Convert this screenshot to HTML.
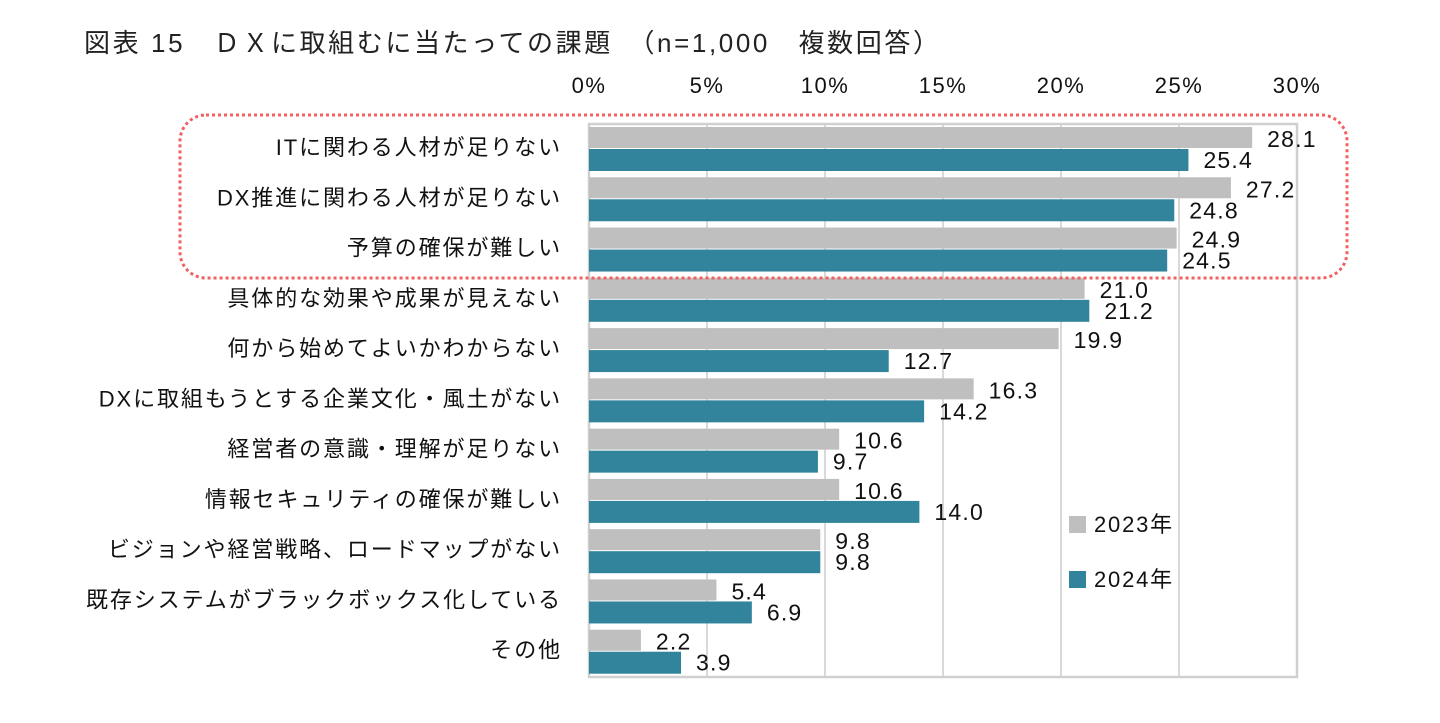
<!DOCTYPE html>
<html><head><meta charset="utf-8"><style>
body{margin:0;width:1440px;height:718px;background:#fff;overflow:hidden;font-family:"Liberation Sans","Noto Sans CJK JP",sans-serif;}
svg text{font-family:"Liberation Sans","Noto Sans CJK JP",sans-serif;}
</style></head><body>
<svg id="c" width="1440" height="718">
<text x="84" y="52" font-size="26" letter-spacing="2.6" fill="#222">図表 15　ＤＸに取組むに当たっての課題　（n=1,000　複数回答）</text>
</svg>
<script>
const categories=["ITに関わる人材が足りない","DX推進に関わる人材が足りない","予算の確保が難しい","具体的な効果や成果が見えない","何から始めてよいかわからない","DXに取組もうとする企業文化・風土がない","経営者の意識・理解が足りない","情報セキュリティの確保が難しい","ビジョンや経営戦略、ロードマップがない","既存システムがブラックボックス化している","その他"];
const values2023=[28.1,27.2,24.9,21.0,19.9,16.3,10.6,10.6,9.8,5.4,2.2];
const values2024=[25.4,24.8,24.5,21.2,12.7,14.2,9.7,14.0,9.8,6.9,3.9];
const ticks=[0,5,10,15,20,25,30];
const seriesNames=["2023年","2024年"];
const svg=document.getElementById('c');
const NS='http://www.w3.org/2000/svg';
const X0=589,X1=1297,Y0=124,Y1=677,MAX=30;
const x=v=>X0+(X1-X0)*v/MAX;
const pitch=(Y1-Y0)/categories.length;
const rowY=i=>Y0+pitch*i;
function mk(t,a){const e=document.createElementNS(NS,t);for(const k in a)e.setAttribute(k,a[k]);svg.appendChild(e);return e;}
ticks.forEach((t,i)=>{
 const g=mk('line',{x1:x(t),x2:x(t),y1:Y0,y2:Y1,stroke:'#d9d9d9','stroke-width':2});
 
 
 const l=mk('text',{x:x(t),y:93,'font-size':22,'letter-spacing':1.5,'text-anchor':'middle',fill:'#111'});
 l.textContent=t+'%';
 
 
});
const fr=mk('rect',{x:X0,y:Y0,width:X1-X0,height:Y1-Y0,fill:'none',stroke:'#d0d0d0','stroke-width':2.5});


categories.forEach((c,i)=>{
 const y=rowY(i);
 const t=mk('text',{x:562,y:y+31,'font-size':22,'letter-spacing':1.9,'text-anchor':'end',fill:'#111'});
 t.textContent=c;
 
 
 const b1=mk('rect',{x:X0,y:y+3,width:x(values2023[i])-X0,height:21,fill:'#bfbfbf'});
 
 
 const b2=mk('rect',{x:X0,y:y+25,width:x(values2024[i])-X0,height:22,fill:'#31849b'});
 
 
 const v1=mk('text',{x:x(values2023[i])+15,y:y+23,'font-size':23,'letter-spacing':1.2,fill:'#111'});
 v1.textContent=values2023[i].toFixed(1);
 
 
 const v2=mk('text',{x:x(values2024[i])+15,y:y+44,'font-size':23,'letter-spacing':1.2,fill:'#111'});
 v2.textContent=values2024[i].toFixed(1);
 
 
});
const cols=['#bfbfbf','#31849b'];
seriesNames.forEach((s,i)=>{
 const ly=516+i*55;
 const r=mk('rect',{x:1069,y:ly,width:17,height:17,fill:cols[i]});
 
 
 const t=mk('text',{x:1094,y:ly+16,'font-size':22,'letter-spacing':1.8,fill:'#111'});
 t.textContent=s;
 
 
});
const hl=mk('rect',{x:180,y:115,width:1167,height:163,rx:26,ry:26,fill:'none',stroke:'#f06060','stroke-width':3,'stroke-dasharray':'3 3'});


</script>
</body></html>
